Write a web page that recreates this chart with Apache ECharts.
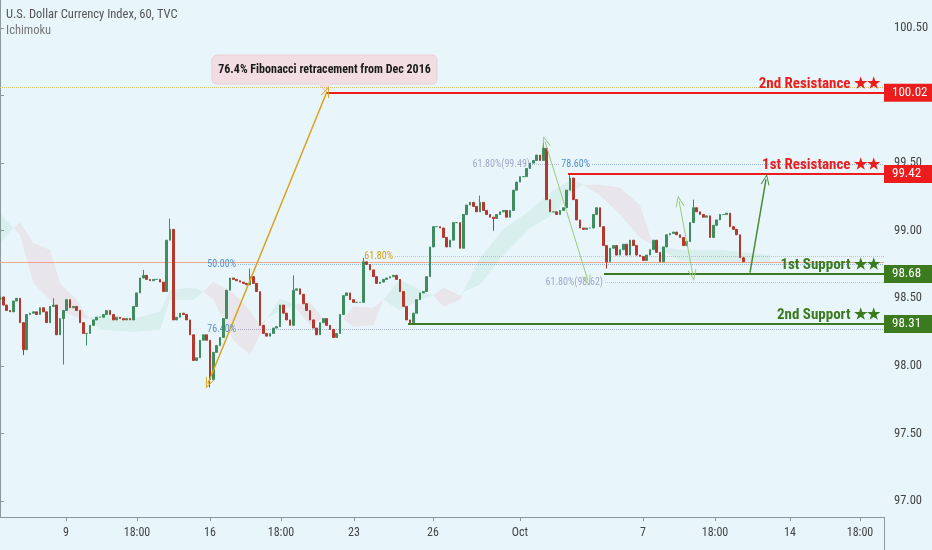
<!DOCTYPE html>
<html><head><meta charset="utf-8">
<script src="https://cdn.jsdelivr.net/npm/echarts@6/dist/echarts.min.js"></script>
<style>html,body{margin:0;padding:0;background:#e8f6fc}#c{width:932px;height:550px}</style>
</head><body><div id="c"></div>
<script>
// Hourly-ish candles (each ~3 bars), closes
const closes = [
98.51,98.45,98.41,98.40,98.48,98.50,98.32,98.12,98.38,98.39,
98.40,98.38,98.43,98.40,98.32,98.44,98.45,98.23,98.35,98.41,
98.49,98.43,98.44,98.41,98.32,98.24,98.24,98.30,98.34,98.36,
98.36,98.38,98.41,98.38,98.34,98.36,98.35,98.34,98.35,98.34,
98.44,98.54,98.65,98.67,98.64,98.63,98.64,98.64,98.62,98.55,
98.93,99.01,98.34,98.36,98.39,98.38,98.34,98.23,98.04,98.06,
98.19,98.23,98.19,97.90,98.10,98.15,98.21,98.35,98.56,98.65,
98.64,98.63,98.62,98.61,98.60,98.66,98.61,98.55,98.30,98.24,
98.22,98.24,98.28,98.29,98.45,98.39,98.34,98.30,98.56,98.57,
98.53,98.46,98.41,98.34,98.28,98.23,98.32,98.35,98.30,98.27,
98.21,98.24,98.38,98.52,98.54,98.49,98.47,98.47,98.47,98.77,
98.75,98.71,98.66,98.61,98.62,98.64,98.65,98.66,98.67,98.64,
98.55,98.44,98.34,98.32,98.39,98.49,98.54,98.55,98.66,98.88,
99.03,99.03,99.02,98.95,98.88,98.93,99.06,99.06,98.87,99.12,
99.19,99.21,99.18,99.14,99.21,99.15,99.12,99.10,99.09,99.12,
99.14,99.15,99.10,99.15,99.30,99.36,99.40,99.40,99.46,99.50,
99.52,99.56,99.52,99.61,99.23,99.14,99.14,99.12,99.15,99.17,
99.30,99.39,99.23,99.08,99.02,99.01,99.02,99.02,99.12,99.17,
99.03,98.89,98.77,98.87,98.89,98.82,98.86,98.90,98.82,98.93,
98.89,98.82,98.81,98.78,98.82,98.86,98.93,98.84,98.77,98.88,
98.97,98.98,98.99,98.97,98.95,98.89,98.92,99.06,99.17,99.14,
99.12,99.10,99.11,98.95,99.04,99.08,99.12,99.12,99.13,99.03,
99.01,98.97,98.80,98.77];
const firstOpen = 98.49;
const wickLows = {7:98.08, 19:98.01, 26:98.15, 63:97.84, 148:99.00, 182:98.72};
const wickHighs = {16:98.50, 43:98.71, 51:99.09, 75:98.72, 88:98.67, 109:98.80, 144:99.26, 163:99.65, 171:99.41, 208:99.23};

// Ichimoku cloud (Senkou span A / B)
const cloudK = [0,4,6,10,15,18,23,26,30,40,48,51,58,61,64,70,75,78,80,84,88,93,97,103,106,112,115,120,126,130,133,138,140,144,151,159,166,172,175,180,186,192,196,204,216,231];
const spanA = [99.13,99.02,98.97,98.61,98.49,98.41,98.36,98.35,98.38,98.35,98.40,98.56,98.58,98.55,98.49,98.19,98.08,98.23,98.35,98.50,98.45,98.30,98.35,98.35,98.29,98.30,98.49,98.64,98.56,98.52,98.44,98.49,98.60,98.80,99.01,99.15,99.30,99.38,99.34,99.26,99.12,98.95,98.89,98.86,98.86,98.82];
const spanB = [98.91,99.02,99.06,98.91,98.86,98.61,98.49,98.37,98.27,98.25,98.27,98.49,98.49,98.55,98.62,98.54,98.41,98.30,98.35,98.41,98.45,98.47,98.35,98.35,98.44,98.43,98.49,98.41,98.49,98.52,98.58,98.52,98.56,98.60,98.82,99.02,99.12,99.30,99.34,99.34,99.32,99.19,98.89,98.78,98.77,98.77];

const xTickK = [19.8,41.1,63,84.3,106.2,129.9,156,192.9,214.5,237,258];
const xTickLabels = ['9','18:00','16','18:00','23','26','Oct','7','18:00','14','18:00'];
const yTicks = [97.00,97.50,98.00,98.50,99.00,99.50,100.00,100.50];

const resistance2 = 100.02, resistance1 = 99.42, support1 = 98.68, support2 = 98.31;
const fibTop = 100.06, lastPrice = 98.77;
const fib500 = 98.75, fib764 = 98.27, fib618a = 98.81, fib786 = 99.49, fib618b = 99.49, fib618c = 98.62;

const X_MAX = 265.2;
const FONT = "'Roboto Condensed','Liberation Sans',sans-serif";

const candles = closes.map((c, i) => {
  const o = i ? closes[i - 1] : firstOpen;
  let lo = Math.min(o, c), hi = Math.max(o, c);
  if (wickLows[i] != null) lo = Math.min(lo, wickLows[i]);
  if (wickHighs[i] != null) hi = Math.max(hi, wickHighs[i]);
  return [i, o, c, lo, hi];
});

const chev = 'path://M0,12 L6,0 L12,12 L10.6,12 L6,2.6 L1.4,12 Z';

function level(v, k0, color, name) {
  return [
    [{coord:[k0, v], lineStyle:{color, width:2, type:'solid'},
      label:{show:true, position:'insideEndTop', formatter:name, color, fontSize:15, fontWeight:'bold', fontFamily:FONT, distance:[4, 1]}},
     {coord:[X_MAX, v]}],
    [{coord:[k0, v], lineStyle:{color, width:2, type:'solid'},
      label:{show:true, position:'end', distance:0, formatter:v.toFixed(2), color:'#fff', backgroundColor:color, padding:[3,12,2,8], fontSize:13, fontFamily:FONT}},
     {coord:[X_MAX, v]}]
  ];
}
function fibLine(v, k0, k1, color, lbl, lblColor, type) {
  return [{coord:[k0, v], lineStyle:{color, width:1, type:type||'dotted'},
    label: lbl ? {show:true, position:'start', distance:2, formatter:lbl, color:lblColor, fontSize:10, fontFamily:FONT} : {show:false}},
    {coord:[k1, v]}];
}
function arrow(p0, p1, color, width, s0, s1) {
  return [{coord:p0, symbol:s0 ? chev : 'none', symbolSize:[9,11], lineStyle:{color, width, type:'solid'}},
          {coord:p1, symbol:s1 ? chev : 'none', symbolSize:[9,11]}];
}

const chart = echarts.init(document.getElementById('c'), null, {renderer:'canvas'});
chart.setOption({
  animation:false,
  backgroundColor:'#e8f6fc',
  grid:{left:0, right:48, top:0, bottom:33},
  xAxis:{type:'value', min:0, max:X_MAX,
    axisLine:{lineStyle:{color:'#8c979e'}},
    axisTick:{show:true, customValues:xTickK, length:4, lineStyle:{color:'#8c979e'}},
    axisLabel:{customValues:xTickK, color:'#444', fontSize:12, fontFamily:FONT, margin:10,
      formatter:(v)=>{const i = xTickK.findIndex(k=>Math.abs(k-v)<1e-6); return i>=0 ? xTickLabels[i] : '';}},
    splitLine:{show:false}},
  yAxis:{type:'value', position:'right', min:96.882, max:100.707, scale:true,
    axisLine:{show:true, lineStyle:{color:'#8c979e'}},
    axisTick:{show:true, customValues:yTicks, length:4, lineStyle:{color:'#8c979e'}},
    axisLabel:{customValues:yTicks, color:'#444', fontSize:12.5, fontFamily:FONT, margin:10, formatter:(v)=>v.toFixed(2)},
    splitLine:{show:false}},
  graphic:[
    {type:'line', shape:{x1:884.5, y1:517, x2:884.5, y2:550}, style:{stroke:'#8c979e', lineWidth:1}},
    {type:'text', left:6, top:8, style:{text:'U.S. Dollar Currency Index, 60, TVC', fill:'#555', fontSize:12.5, fontFamily:FONT}},
    {type:'text', left:6, top:24, style:{text:'Ichimoku', fill:'#777', fontSize:12.5, fontFamily:FONT}},
    {type:'group', z:50, children:[
      {type:'polygon', shape:{points:[[318,83],[325,91],[331,83]]}, style:{fill:'#f2dee2', stroke:'#e4cbd1'}},
      {type:'rect', shape:{x:212, y:55, width:225, height:29, r:5}, style:{fill:'#f2dee2', stroke:'#e6cdd3'}},
      {type:'rect', shape:{x:319, y:82, width:11, height:3}, style:{fill:'#f2dee2'}},
      {type:'text', x:324.5, y:70, style:{text:'76.4% Fibonacci retracement from Dec 2016', fill:'#1a1a1a', fontSize:12, fontWeight:'bold', fontFamily:FONT, align:'center', verticalAlign:'middle'}}
    ]}
  ],
  series:[
    {type:'custom', z:1, silent:true, clip:true, data:[[0,98]], encode:{x:0,y:1},
      renderItem:(params, api)=>{
        const children = [];
        const G = 'rgba(80,175,105,0.10)', R = 'rgba(235,100,100,0.11)';
        for (let i=0;i<cloudK.length-1;i++){
          const d0 = spanA[i]-spanB[i], d1 = spanA[i+1]-spanB[i+1];
          const a0=api.coord([cloudK[i],spanA[i]]), a1=api.coord([cloudK[i+1],spanA[i+1]]);
          const b0=api.coord([cloudK[i],spanB[i]]), b1=api.coord([cloudK[i+1],spanB[i+1]]);
          if (d0*d1 < 0) {
            const t = d0/(d0-d1);
            const kx = cloudK[i]+t*(cloudK[i+1]-cloudK[i]);
            const vy = spanA[i]+t*(spanA[i+1]-spanA[i]);
            const p = api.coord([kx, vy]);
            children.push({type:'polygon', shape:{points:[a0,p,b0]}, style:{fill:d0>0?G:R}});
            children.push({type:'polygon', shape:{points:[p,a1,b1]}, style:{fill:d1>0?G:R}});
          } else {
            children.push({type:'polygon', shape:{points:[a0,a1,b1,b0]}, style:{fill:(d0+d1)>=0?G:R}});
          }
        }
        return {type:'group', children};
      }},
    {type:'line', z:1, data:[], silent:true,
      markLine:{silent:true, animation:false, symbol:['none','none'], z:1, label:{show:false},
        data:[
          fibLine(fibTop, 0, X_MAX, '#d6c36e'),
          fibLine(lastPrice, 0, X_MAX, '#efa796', null, null, 'solid'),
          fibLine(fib500, 71.4, X_MAX, '#92b6dc', '50.00%', '#4f8fd0'),
          fibLine(fib764, 71.4, X_MAX, '#a5b4cf', '76.40%', '#4f8fd0'),
          fibLine(fib618a, 118.5, X_MAX, '#d9c87a', '61.80%', '#d4a017'),
          fibLine(fib786, 177.6, X_MAX, '#92b6dc', '78.60%', '#4f8fd0'),
          fibLine(fib618b, 159.6, 168, '#b8bdd6', '61.80%(99.49)', '#a2a7c6'),
          fibLine(fib618c, 181.5, X_MAX, '#c3c7dc', '61.80%(98.62)', '#a2a7c6')
        ]}},
    {type:'candlestick', z:2, data:candles, encode:{x:0, y:[1,2,3,4]}, barWidth:2.2, clip:true,
      itemStyle:{color:'#3f8c5f', color0:'#b5382c', borderColor:'#3f8c5f', borderColor0:'#b5382c', borderWidth:1},
      markLine:{silent:true, animation:false, symbol:['none','none'], label:{show:false},
        data:[
          ...level(resistance2, 98.1, '#ec1c1c', '2nd Resistance ★★'),
          ...level(resistance1, 170.4, '#ec1c1c', '1st Resistance ★★'),
          ...level(support1, 181.2, '#3b7a1e', '1st Support ★★'),
          ...level(support2, 122.4, '#3b7a1e', '2nd Support ★★'),
          arrow([62.4, 97.87], [98.1, 100.03], '#d9a21b', 1.5, true, true),
          arrow([163.5, 99.66], [176.4, 98.63], '#9cc978', 1, true, true),
          arrow([203.7, 99.22], [207.9, 98.67], '#9cc978', 1, true, true),
          arrow([225, 98.69], [229.8, 99.38], '#4a8c34', 1.5, false, true)
        ]}}
  ]
});
</script></body></html>
